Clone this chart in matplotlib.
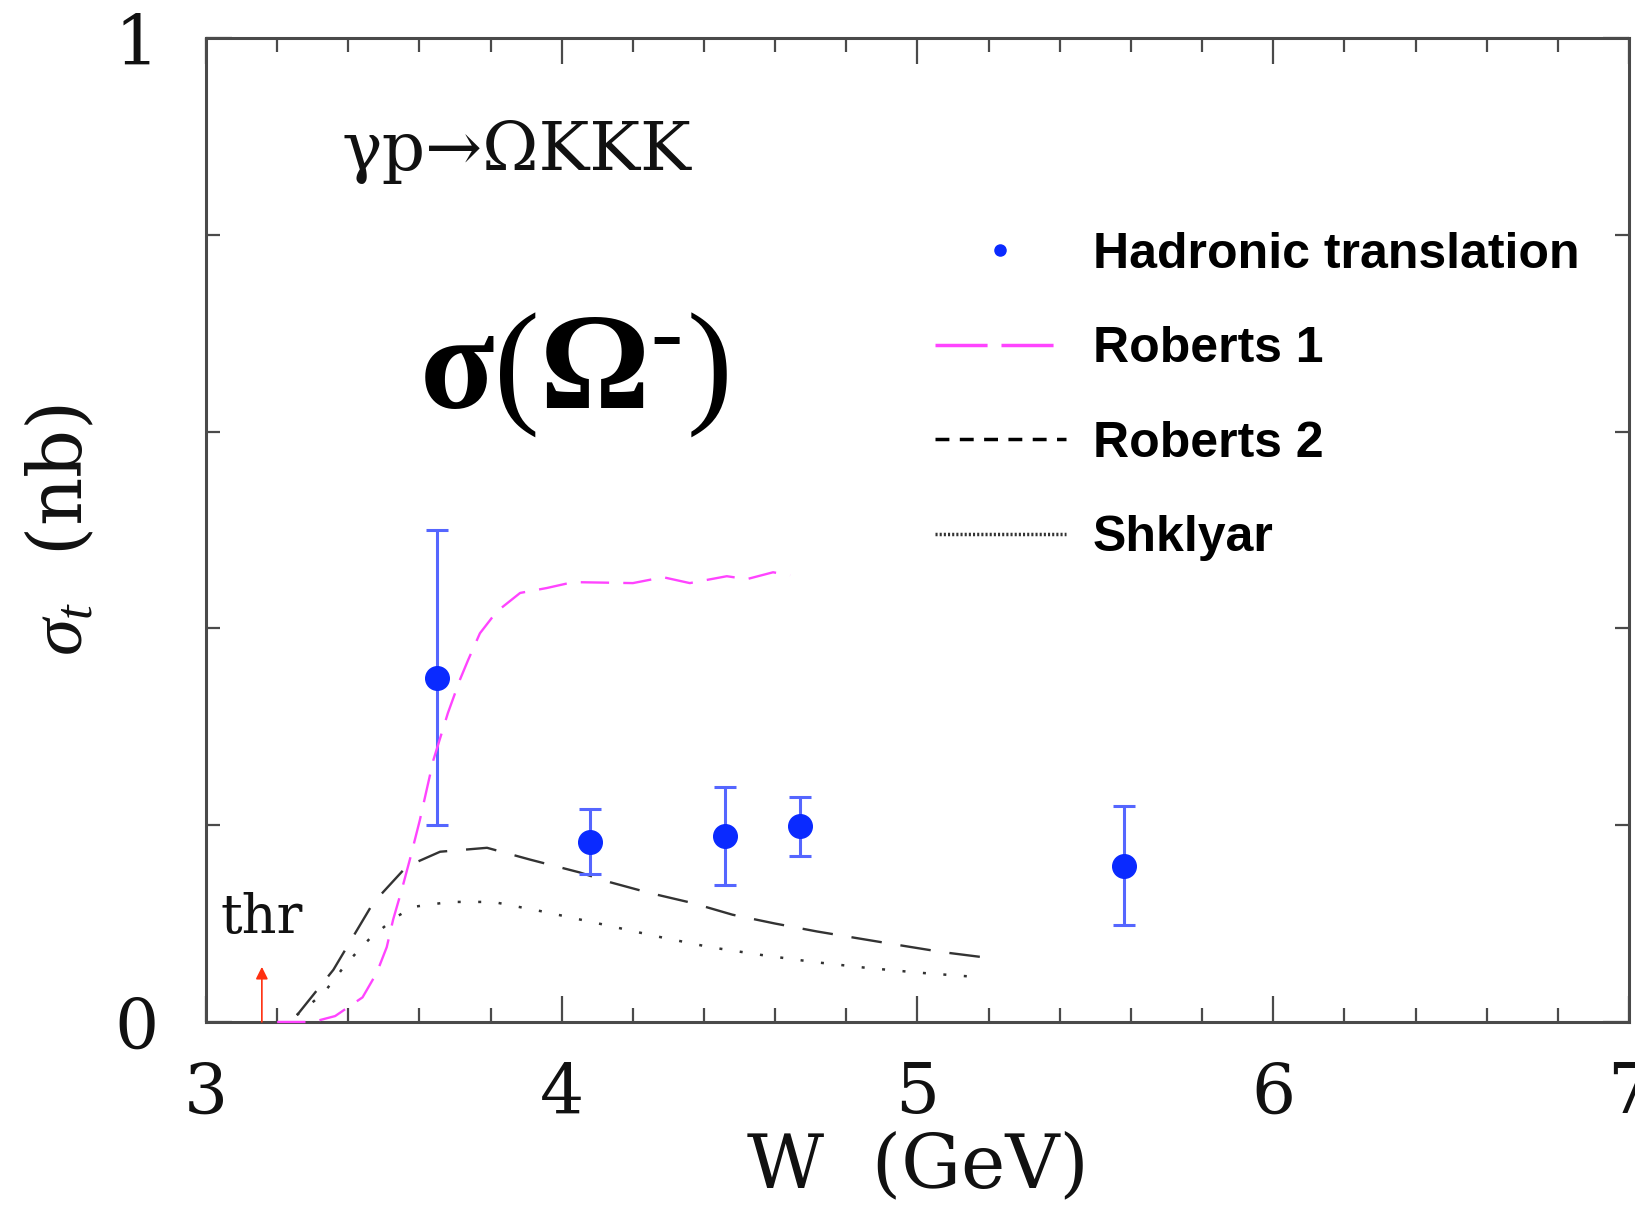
import matplotlib
matplotlib.use("Agg")
import matplotlib.pyplot as plt
from matplotlib.lines import Line2D

# Hadronic translation points (W in GeV, sigma in nb)
w_pts = [3.65, 4.08, 4.46, 4.67, 5.58]
sig_pts = [0.350, 0.183, 0.189, 0.199, 0.159]
sig_err = [0.150, 0.033, 0.050, 0.030, 0.060]

# Roberts 1 (magenta long dash)
w_r1 = [3.20, 3.30, 3.363, 3.44, 3.48, 3.508, 3.526, 3.55, 3.573, 3.601, 3.639, 3.68,
        3.714, 3.737, 3.770, 3.817, 3.883, 3.958, 4.032, 4.20, 4.285, 4.36, 4.464,
        4.52, 4.594, 4.642]
s_r1 = [0.0, 0.0, 0.006, 0.025, 0.05, 0.076, 0.104, 0.134, 0.165, 0.205, 0.266, 0.314,
        0.348, 0.368, 0.395, 0.417, 0.436, 0.441, 0.447, 0.446, 0.452, 0.446, 0.453,
        0.450, 0.457, 0.454]

# Roberts 2 (black dashed)
w_r2 = [3.256, 3.358, 3.47, 3.564, 3.658, 3.79, 3.911, 4.05, 4.136, 4.248, 4.366, 4.48,
        4.60, 4.717, 4.833, 4.95, 5.07, 5.18]
s_r2 = [0.007, 0.053, 0.121, 0.158, 0.173, 0.177, 0.165, 0.152, 0.142, 0.131, 0.121, 0.109,
        0.100, 0.092, 0.085, 0.078, 0.071, 0.066]

# Shklyar (dotted)
w_sh = [3.255, 3.33, 3.396, 3.461, 3.536, 3.583, 3.686, 3.807, 3.95, 4.117, 4.267, 4.417,
        4.563, 4.707, 4.857, 5.007, 5.156]
s_sh = [0.007, 0.029, 0.060, 0.085, 0.107, 0.117, 0.122, 0.122, 0.112, 0.099, 0.087, 0.076,
        0.068, 0.061, 0.055, 0.050, 0.046]

w_thr = 3.157

serif = "DejaVu Serif"
plt.rcParams["mathtext.fontset"] = "custom"
plt.rcParams["mathtext.rm"] = "Liberation Serif"
plt.rcParams["mathtext.it"] = "Liberation Serif:italic"
plt.rcParams["mathtext.bf"] = "Liberation Serif:bold"

fig = plt.figure(figsize=(16.35, 12.09), dpi=100)
ax = fig.add_axes([0.126, 0.1547, 0.8703, 0.8139])

frame_c = "#4a4a4a"
for sp in ax.spines.values():
    sp.set_color(frame_c)
    sp.set_linewidth(2.2)

c_r1 = "#ff44ff"
c_dk = "#333333"
ax.plot(w_r1, s_r1, color=c_r1, lw=1.7, dashes=(12, 6), clip_on=False, zorder=4)
ax.plot(w_r2, s_r2, color=c_dk, lw=1.7, dashes=(13, 8))
ax.plot(w_sh, s_sh, color=c_dk, lw=1.8, dashes=(1.2, 7))

ax.errorbar(w_pts, sig_pts, yerr=sig_err, fmt="none", ecolor="#5566ff", elinewidth=2.2,
            capsize=8, capthick=2.2)
ax.plot(w_pts, sig_pts, "o", color="#0a2aff", ms=17, mec="#0a2aff")

# threshold arrow
ax.annotate("", xy=(w_thr, 0.056), xytext=(w_thr, 0.0),
            arrowprops=dict(arrowstyle="-|>", color="#ff3010", lw=1.2,
                            mutation_scale=18, shrinkA=0, shrinkB=0))
ax.text(3.042, 0.0905, "thr", fontsize=39, family=serif, color="#111111")

ax.text(3.382, 0.885, "γp→ΩKKK", fontsize=49, family=serif, color="#111111", va="center")
ax.text(3.600, 0.624, r"$\mathbf{\sigma}(\mathbf{\Omega}^{\text{-}})$", fontsize=99,
        color="black")

ax.set_xlim(3, 7)
ax.set_ylim(0, 1)
ax.set_xticks([3, 4, 5, 6, 7])
ax.set_xticks([3 + 0.2 * i for i in range(21)], minor=True)
ax.set_yticks([0, 1])
ax.set_yticks([0.2, 0.4, 0.6, 0.8], minor=True)
ax.set_xticklabels(["3", "4", "5", "6", "7"])
ax.set_yticklabels(["0", "1"])
ax.tick_params(which="both", direction="in", top=True, right=True, color=frame_c, width=1.6)
ax.tick_params(which="major", length=19)
ax.tick_params(which="minor", length=10)
ax.tick_params(axis="x", which="major", pad=28, labelsize=50)
ax.tick_params(axis="y", which="major", pad=34, labelsize=50)
for lab in ax.get_xticklabels() + ax.get_yticklabels():
    lab.set_family(serif)
    lab.set_color("#111111")

ax.set_xlabel("W  (GeV)", fontsize=54, family=serif, labelpad=2, color="#111111")
ax.set_ylabel(r"$\sigma_t$  (nb)", fontsize=54, family=serif, labelpad=12, color="#111111")

handles = [
    Line2D([], [], ls="none", marker="o", color="#0a2aff", ms=8),
    Line2D([], [], color=c_r1, lw=2.5, dashes=(15, 4)),
    Line2D([], [], color="black", lw=2.5, dashes=(4, 3)),
    Line2D([], [], color=c_dk, lw=2.5, dashes=(0.6, 0.6)),
]
labels = ["Hadronic translation", "Roberts 1", "Roberts 2", "Shklyar"]
ax.legend(handles, labels, loc="upper left", bbox_to_anchor=(0.512, 0.803), frameon=False,
          prop={"family": "Liberation Sans", "weight": "bold", "size": 36},
          handlelength=2.62, handletextpad=0.54, labelspacing=0.97, borderpad=0,
          borderaxespad=0)

fig.savefig("out.png", dpi=100)
